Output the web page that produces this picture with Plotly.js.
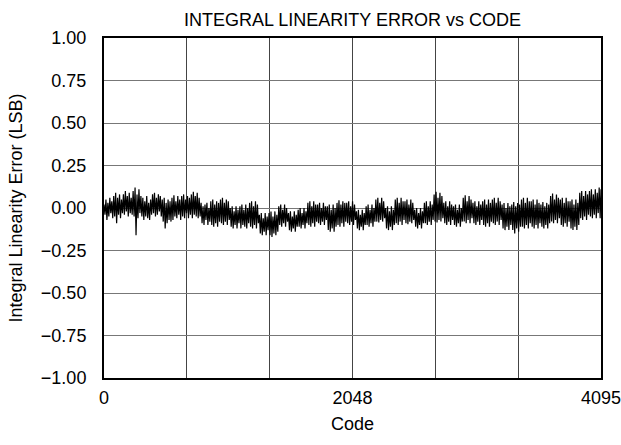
<!DOCTYPE html>
<html>
<head>
<meta charset="utf-8">
<script src="https://cdn.plot.ly/plotly-3.0.1.min.js"></script>
<style>html,body{margin:0;padding:0;background:#fff}#chart{width:621px;height:445px}</style>
</head>
<body>
<div id="chart"></div>
<script>
// Sampling grid: one reading every 8 codes, plus the last code
const CODE_STEP = 8;
const LAST_CODE = 4095;
const xTickVals = [0, 2048, 4095];
const xTickText = ["0", "2048", "4095"];
const yTickVals = [-1, -0.75, -0.5, -0.25, 0, 0.25, 0.5, 0.75, 1];
const yTickText = ["\u22121.00", "\u22120.75", "\u22120.50", "\u22120.25", "0.00", "0.25", "0.50", "0.75", "1.00"];

// INL readings (LSB)
const inl = [
  0.02,-0.04,0.05,-0.07,0.03,-0.05,0.06,-0.03,0.04,-0.06,
  0.07,-0.05,0.09,-0.09,0.06,-0.04,0.08,-0.06,0.05,-0.03,
  0.08,-0.04,0.10,-0.02,0.07,-0.05,0.09,-0.03,0.06,-0.04,
  0.10,-0.05,0.12,-0.16,0.08,-0.06,0.11,-0.03,0.07,-0.05,
  0.06,-0.07,0.04,-0.05,0.07,-0.06,0.03,-0.07,0.05,-0.04,
  0.08,-0.03,0.09,-0.05,0.06,-0.04,0.08,-0.02,0.07,-0.05,
  0.05,-0.08,0.06,-0.12,0.03,-0.09,0.05,-0.07,0.04,-0.08,
  0.06,-0.07,0.075,-0.05,0.04,-0.06,0.07,-0.04,0.05,-0.07,
  0.07,-0.05,0.08,-0.06,0.05,-0.03,0.07,-0.06,0.06,-0.04,
  0.08,-0.06,0.095,-0.04,0.07,-0.05,0.09,-0.06,0.06,-0.05,
  0.03,-0.09,0.01,-0.10,0.02,-0.07,0.03,-0.10,0.00,-0.08,
  0.04,-0.10,0.05,-0.11,0.02,-0.09,0.04,-0.11,0.03,-0.08,
  0.05,-0.09,0.06,-0.10,0.03,-0.08,0.05,-0.10,0.04,-0.07,
  0.00,-0.11,0.01,-0.12,-0.02,-0.10,0.01,-0.12,-0.01,-0.09,
  0.01,-0.12,0.02,-0.10,-0.01,-0.11,0.02,-0.12,0.00,-0.09,
  0.03,-0.11,0.04,-0.12,0.01,-0.10,0.04,-0.12,0.02,-0.09,
  -0.04,-0.15,-0.03,-0.16,-0.06,-0.14,-0.03,-0.16,-0.05,-0.13,
  -0.03,-0.16,-0.02,-0.17,-0.05,-0.15,-0.02,-0.16,-0.04,-0.14,
  0.01,-0.10,0.02,-0.11,-0.01,-0.09,0.02,-0.11,0.00,-0.08,
  -0.03,-0.13,-0.02,-0.14,-0.05,-0.12,-0.02,-0.14,-0.04,-0.11,
  -0.01,-0.11,0.00,-0.12,-0.03,-0.10,0.00,-0.12,-0.02,-0.09,
  0.03,-0.10,0.04,-0.11,0.01,-0.09,0.04,-0.11,0.02,-0.08,
  0.02,-0.09,0.03,-0.10,0.00,-0.08,0.03,-0.10,0.01,-0.07,
  0.01,-0.13,0.02,-0.14,-0.01,-0.12,0.02,-0.14,0.00,-0.11,
  0.03,-0.10,0.045,-0.11,0.02,-0.09,0.04,-0.11,0.03,-0.08,
  0.03,-0.09,0.04,-0.10,0.01,-0.08,0.04,-0.10,0.02,-0.07,
  -0.02,-0.12,-0.01,-0.13,-0.04,-0.11,-0.01,-0.13,-0.03,-0.10,
  0.01,-0.10,0.02,-0.11,-0.01,-0.09,0.02,-0.11,0.00,-0.08,
  0.05,-0.08,0.06,-0.085,0.03,-0.07,0.06,-0.08,0.04,-0.06,
  0.00,-0.12,0.01,-0.13,-0.02,-0.11,0.01,-0.13,-0.01,-0.10,
  0.05,-0.09,0.06,-0.10,0.03,-0.08,0.06,-0.10,0.04,-0.07,
  0.04,-0.09,0.05,-0.095,0.02,-0.08,0.05,-0.09,0.03,-0.07,
  -0.01,-0.11,0.00,-0.12,-0.03,-0.10,0.00,-0.12,-0.02,-0.09,
  0.03,-0.09,0.04,-0.10,0.01,-0.08,0.04,-0.10,0.02,-0.07,
  0.08,-0.08,0.095,-0.085,0.06,-0.07,0.09,-0.08,0.07,-0.06,
  0.03,-0.09,0.04,-0.10,0.01,-0.08,0.04,-0.10,0.02,-0.07,
  0.01,-0.10,0.02,-0.11,-0.01,-0.09,0.02,-0.11,0.00,-0.08,
  0.06,-0.08,0.075,-0.09,0.04,-0.07,0.07,-0.09,0.05,-0.06,
  0.03,-0.09,0.04,-0.10,0.01,-0.08,0.04,-0.10,0.02,-0.07,
  0.04,-0.10,0.05,-0.11,0.02,-0.09,0.05,-0.11,0.03,-0.08,
  0.05,-0.09,0.06,-0.10,0.03,-0.08,0.06,-0.10,0.04,-0.07,
  0.02,-0.12,0.03,-0.13,0.00,-0.11,0.03,-0.13,0.01,-0.10,
  0.02,-0.13,0.035,-0.15,0.01,-0.12,0.03,-0.14,0.02,-0.11,
  0.05,-0.11,0.06,-0.12,0.03,-0.10,0.06,-0.12,0.04,-0.09,
  0.04,-0.11,0.05,-0.12,0.02,-0.10,0.05,-0.12,0.03,-0.09,
  0.02,-0.11,0.035,-0.12,0.01,-0.10,0.03,-0.12,0.02,-0.09,
  0.07,-0.08,0.085,-0.09,0.05,-0.07,0.08,-0.09,0.06,-0.06,
  0.05,-0.10,0.06,-0.11,0.03,-0.09,0.06,-0.11,0.04,-0.08,
  0.04,-0.12,0.05,-0.13,0.02,-0.11,0.05,-0.13,0.03,-0.10,
  0.09,-0.06,0.10,-0.07,0.07,-0.05,0.10,-0.07,0.08,-0.04,
  0.10,-0.05,0.11,-0.06,0.08,-0.04,0.11,-0.06,0.09,-0.03,
  0.12,-0.06,0.11
];

const codes = [];
for (let i = 0; i < inl.length - 1; i++) codes.push(i * CODE_STEP);
codes.push(LAST_CODE);

const FONT = "Liberation Sans, Arial, Helvetica, sans-serif";
const FS = 18;

const traces = [
  {
    x: codes, y: inl, type: "scatter", mode: "lines",
    line: {color: "#000", width: 1.2},
    hoverinfo: "skip", xaxis: "x", yaxis: "y"
  },
  {
    x: [0], y: [null], type: "scatter", mode: "lines",
    hoverinfo: "skip", showlegend: false, xaxis: "x2", yaxis: "y"
  }
];

const layout = {
  width: 621, height: 445,
  margin: {l: 104, r: 20, t: 38, b: 67},
  paper_bgcolor: "#fff", plot_bgcolor: "#fff",
  showlegend: false,
  font: {family: FONT, size: FS, color: "#000"},
  title: {
    text: "INTEGRAL LINEARITY ERROR vs CODE",
    font: {family: FONT, size: FS, color: "#000"},
    x: 0.5, xref: "paper", y: 1 - 20 / 445, yref: "container", yanchor: "middle"
  },
  xaxis: {
    range: [0, 4095], tick0: 0, dtick: 4095 / 6,
    showgrid: true, gridcolor: "#444", gridwidth: 1,
    showticklabels: false, ticks: "", zeroline: false,
    showline: true, mirror: true, linecolor: "#000", linewidth: 2
  },
  xaxis2: {
    overlaying: "x", anchor: "y", side: "bottom",
    range: [0, 4095], tickvals: xTickVals, ticktext: xTickText,
    showgrid: false, zeroline: false, showline: false, ticks: "",
    ticklabelstandoff: 7, ticklabeloverflow: "allow",
    tickfont: {family: FONT, size: FS, color: "#000"},
    title: {text: "Code", font: {family: FONT, size: FS, color: "#000"}, standoff: 10}
  },
  yaxis: {
    range: [-1, 1], tickvals: yTickVals, ticktext: yTickText,
    showgrid: true, gridcolor: "#777", gridwidth: 1, zeroline: false,
    showline: true, mirror: true, linecolor: "#000", linewidth: 2,
    ticks: "", ticklabelstandoff: 12, ticklabeloverflow: "allow",
    tickfont: {family: FONT, size: FS, color: "#000"},
    title: {text: "Integral Linearity Error (LSB)", font: {family: FONT, size: FS, color: "#000"}, standoff: 14}
  }
};

Plotly.newPlot("chart", traces, layout, {displayModeBar: false, staticPlot: true});
</script>
</body>
</html>
